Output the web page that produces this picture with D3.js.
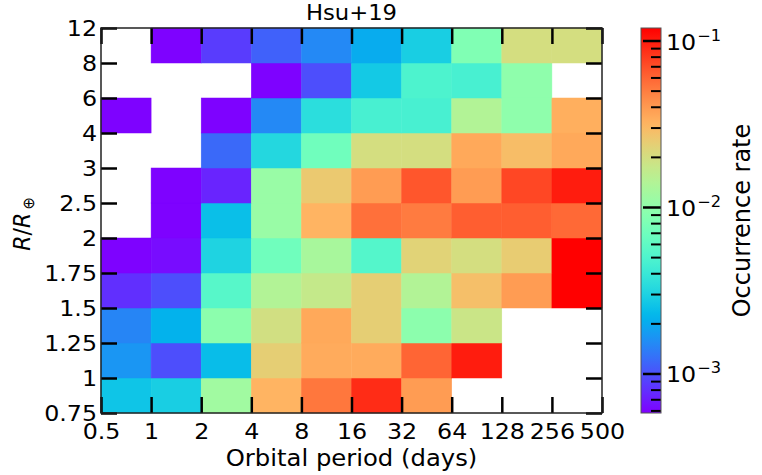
<!DOCTYPE html>
<html>
<head>
<meta charset="utf-8">
<script src="https://cdn.jsdelivr.net/npm/d3@7"></script>
<style>
  body { margin: 0; background: white; }
  text { font-family: "DejaVu Sans", sans-serif; fill: black; }
</style>
</head>
<body>
<svg id="chart" width="762" height="475"></svg>
<script>
// bin edges (tick labels)
var periodEdges = ["0.5", "1", "2", "4", "8", "16", "32", "64", "128", "256", "500"];
var radiusEdges = ["0.75", "1", "1.25", "1.5", "1.75", "2", "2.5", "3", "4", "6", "8", "12"];

// occurrence rate per cell, rows from smallest radius bin up, null = empty
var rate075 = [2.59e-3, 2.88e-3, 1.18e-2, 3.16e-2, 5.25e-2, 8.93e-2, 3.91e-2, null, null, null];
var rate100 = [1.69e-3, 9.9e-4, 2.39e-3, 2.42e-2, 3.43e-2, 3.43e-2, 5.99e-2, 9.93e-2, null, null];
var rate125 = [1.48e-3, 2.15e-3, 9.54e-3, 1.96e-2, 3.52e-2, 2.42e-2, 9.54e-3, 1.81e-2, null, null];
var rate150 = [8.0e-4, 9.9e-4, 5.46e-3, 1.42e-2, 1.71e-2, 2.42e-2, 1.42e-2, 2.84e-2, 3.91e-2, 0.13];
var rate175 = [5.9e-4, 6.3e-4, 3.04e-3, 7.12e-3, 1.28e-2, 5.31e-3, 2.30e-2, 2.01e-2, 2.49e-2, 0.13];
var rate200 = [null, 5.9e-4, 2.45e-3, 1.09e-2, 3.16e-2, 5.53e-2, 5.10e-2, 6.32e-2, 6.32e-2, 5.83e-2];
var rate250 = [null, 5.9e-4, 7.4e-4, 1.09e-2, 2.56e-2, 3.91e-2, 6.67e-2, 3.91e-2, 7.41e-2, 9.93e-2];
var rate300 = [null, null, 1.20e-3, 3.21e-3, 7.12e-3, 2.01e-2, 2.01e-2, 3.52e-2, 2.92e-2, 3.52e-2];
var rate400 = [5.9e-4, null, 5.9e-4, 1.52e-3, 3.47e-3, 4.66e-3, 4.66e-3, 1.42e-2, 9.80e-3, 3.33e-2];
var rate600 = [null, null, null, 5.9e-4, 9.9e-4, 2.73e-3, 4.91e-3, 4.66e-3, 9.80e-3, null];
var rate800 = [null, 5.9e-4, 8.7e-4, 1.13e-3, 1.52e-3, 2.04e-3, 2.88e-3, 8.36e-3, 2.01e-2, 2.01e-2];
var rates = [rate075, rate100, rate125, rate150, rate175, rate200, rate250, rate300, rate400, rate600, rate800];

var colorDomain = [5.83e-4, 0.1197];
var cbarTicks = [1e-3, 1e-2, 1e-1];
var cbarTickLabels = ["\u22123", "\u22122", "\u22121"];

var SX = 1.08; // text is a bit wider than tall in the reference

// matplotlib "rainbow"
function rainbow(t) {
    t = Math.max(0, Math.min(1, t));
    var r = Math.min(1, Math.abs(2 * t - 0.5));
    var g = Math.sin(Math.PI * t);
    var b = Math.cos(Math.PI * t / 2);
    return d3.rgb(r * 255, g * 255, b * 255).formatHex();
}

var pLeft = 101, pRight = 602, pTop = 28, pBottom = 413;

var xScale = d3.scalePoint().domain(periodEdges).range([pLeft, pRight]);
var yScale = d3.scalePoint().domain(radiusEdges).range([pBottom, pTop]);
var tScale = d3.scaleLog().domain(colorDomain).range([0, 1]).clamp(true);

var svg = d3.select("#chart");
svg.append("rect").attr("width", 762).attr("height", 475).attr("fill", "white");

// cells
var cells = [];
rates.forEach(function (row, i) {
    row.forEach(function (v, j) {
        if (v !== null) cells.push({ i: i, j: j, v: v });
    });
});

svg.append("g")
    .selectAll("rect")
    .data(cells)
    .join("rect")
    .attr("x", d => xScale(periodEdges[d.j]))
    .attr("y", d => yScale(radiusEdges[d.i + 1]))
    .attr("width", d => xScale(periodEdges[d.j + 1]) - xScale(periodEdges[d.j]))
    .attr("height", d => yScale(radiusEdges[d.i]) - yScale(radiusEdges[d.i + 1]))
    .attr("fill", d => rainbow(tScale(d.v)))
    .attr("stroke", d => rainbow(tScale(d.v)))
    .attr("stroke-width", 0.5);

// axes, ticks pointing inward on every side
var tickLen = 16;

var xAxis = d3.axisBottom(xScale).tickSizeInner(-tickLen).tickSizeOuter(0).tickPadding(10);
var yAxis = d3.axisLeft(yScale).tickSizeInner(-tickLen).tickSizeOuter(0).tickPadding(3.6);

var gx = svg.append("g").attr("transform", `translate(0,${pBottom})`).call(xAxis);
var gy = svg.append("g").attr("transform", `translate(${pLeft},0)`).call(yAxis);
svg.append("g").attr("transform", `translate(0,${pTop})`)
    .call(d3.axisTop(xScale).tickSizeInner(-tickLen).tickSizeOuter(0).tickFormat(""));
svg.append("g").attr("transform", `translate(${pRight},0)`)
    .call(d3.axisRight(yScale).tickSizeInner(-tickLen).tickSizeOuter(0).tickFormat(""));

svg.selectAll(".domain").remove();
svg.selectAll(".tick line").attr("stroke", "black").attr("stroke-width", 2.5);
[gx, gy].forEach(function (g) {
    g.selectAll("text")
        .style("font-family", "DejaVu Sans")
        .style("font-size", "22px")
        .attr("fill", "black");
});
gx.selectAll("text").attr("transform", `scale(${SX},1)`);
gy.selectAll("text").attr("transform", `scale(${SX},1)`).attr("x", -3.7).attr("dy", "0.36em");

// frame
svg.append("rect")
    .attr("x", pLeft).attr("y", pTop)
    .attr("width", pRight - pLeft).attr("height", pBottom - pTop)
    .attr("fill", "none").attr("stroke", "#222").attr("stroke-width", 1.5);

// title and axis labels
svg.append("text")
    .attr("transform", `translate(${(pLeft + pRight) / 2},20) scale(${SX},1)`)
    .attr("text-anchor", "middle")
    .style("font-size", "21px")
    .text("Hsu+19");

svg.append("text")
    .attr("transform", `translate(${(pLeft + pRight) / 2},466) scale(${SX},1)`)
    .attr("text-anchor", "middle")
    .style("font-size", "22.5px")
    .text("Orbital period (days)");

var yLabel = svg.append("text")
    .attr("transform", `translate(30,224) scale(${SX},1) rotate(-90)`)
    .attr("text-anchor", "middle")
    .style("font-size", "22px");
yLabel.append("tspan").style("font-style", "italic").text("R");
yLabel.append("tspan").text("/");
yLabel.append("tspan").style("font-style", "italic").text("R");
yLabel.append("tspan").attr("dy", 4).attr("dx", 3).style("font-size", "15px").text("\u2295");

// colorbar
var cbLeft = 641, cbWidth = 20;
var cbScale = d3.scaleLog().domain(colorDomain).range([pBottom, pTop]);

var grad = svg.append("defs").append("linearGradient")
    .attr("id", "cbGrad")
    .attr("x1", 0).attr("y1", 1).attr("x2", 0).attr("y2", 0);
grad.selectAll("stop")
    .data(d3.range(0, 1.0001, 0.02))
    .join("stop")
    .attr("offset", d => d)
    .attr("stop-color", d => rainbow(d));

svg.append("rect")
    .attr("x", cbLeft).attr("y", pTop)
    .attr("width", cbWidth).attr("height", pBottom - pTop)
    .attr("fill", "url(#cbGrad)");

var minorTicks = cbScale.ticks().filter(t => cbarTicks.indexOf(t) < 0);

svg.append("g")
    .selectAll("line")
    .data(minorTicks)
    .join("line")
    .attr("x1", cbLeft + cbWidth - 10).attr("x2", cbLeft + cbWidth)
    .attr("y1", d => cbScale(d)).attr("y2", d => cbScale(d))
    .attr("stroke", "black").attr("stroke-width", 2);

svg.append("g")
    .selectAll("line")
    .data(cbarTicks)
    .join("line")
    .attr("x1", cbLeft + 2).attr("x2", cbLeft + cbWidth)
    .attr("y1", d => cbScale(d)).attr("y2", d => cbScale(d))
    .attr("stroke", "black").attr("stroke-width", 2.5);

svg.append("rect")
    .attr("x", cbLeft).attr("y", pTop)
    .attr("width", cbWidth).attr("height", pBottom - pTop)
    .attr("fill", "none").attr("stroke", "#555").attr("stroke-width", 1);

var cbLabels = svg.append("g")
    .selectAll("text")
    .data(cbarTicks)
    .join("text")
    .attr("transform", d => `translate(666,${cbScale(d) + 8.5}) scale(${SX},1)`)
    .style("font-size", "22px");
cbLabels.append("tspan").text("10");
cbLabels.append("tspan")
    .attr("dy", -9)
    .attr("dx", 1)
    .style("font-size", "15px")
    .text((d, i) => cbarTickLabels[i]);

svg.append("text")
    .attr("transform", `translate(750,${(pTop + pBottom) / 2}) rotate(-90)`)
    .attr("text-anchor", "middle")
    .style("font-size", "24px")
    .text("Occurrence rate");
</script>
</body>
</html>
